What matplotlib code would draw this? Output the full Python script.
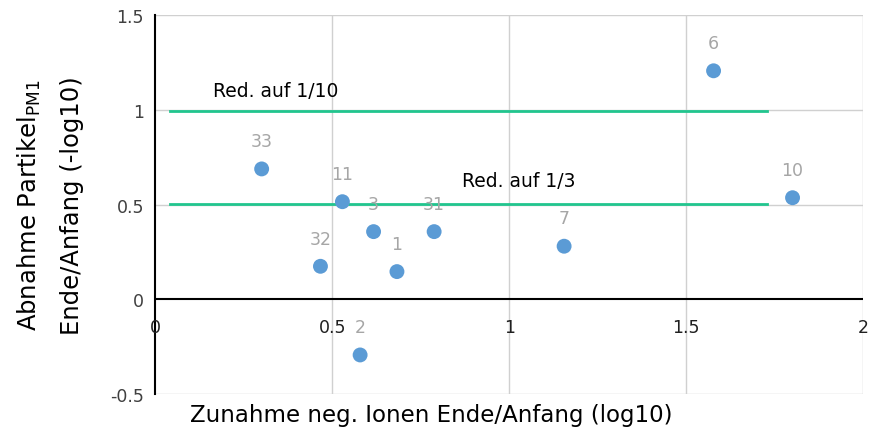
import matplotlib
matplotlib.use("Agg")
import matplotlib.pyplot as plt

# Data
labels = ["33", "32", "11", "2", "3", "1", "31", "7", "6", "10"]
x_vals = [0.301, 0.467, 0.529, 0.579, 0.617, 0.683, 0.788, 1.155, 1.577, 1.800]
y_vals = [0.688, 0.174, 0.515, -0.294, 0.357, 0.146, 0.357, 0.280, 1.206, 0.536]

ref_levels = [0.995, 0.505]
ref_names = ["Red. auf 1/10", "Red. auf 1/3"]
ref_x_range = [0.042, 1.728]
ref_text_pos = [(0.163, 1.10), (0.866, 0.626)]

x_ticks = [0, 0.5, 1, 1.5, 2]
x_tick_labels = ["0", "0.5", "1", "1.5", "2"]
y_ticks = [-0.5, 0, 0.5, 1, 1.5]
y_tick_labels = ["-0.5", "0", "0.5", "1", "1.5"]

plt.rcParams['font.family'] = ['DejaVu Sans']

fig = plt.figure(figsize=(8.81, 4.35), dpi=100)
ax = fig.add_axes([0.176, 0.092, 0.804, 0.871])
ax.set_xlim(0, 2)
ax.set_ylim(-0.5, 1.5)

grid_c = "#d0d0d0"
for xv in x_ticks[1:]:
    ax.axvline(xv, color=grid_c, lw=1.0, zorder=0)
for yv in y_ticks:
    if yv != 0:
        ax.axhline(yv, color=grid_c, lw=1.0, zorder=0)
ax.axhline(0, color="black", lw=1.5, zorder=1)

for s in ["top", "right", "bottom"]:
    ax.spines[s].set_visible(False)
ax.spines["left"].set_color("black")
ax.spines["left"].set_linewidth(1.5)

ax.set_xticks(x_ticks)
ax.set_xticklabels([])
ax.tick_params(axis="x", length=0)
ax.set_yticks(y_ticks)
ax.set_yticklabels(y_tick_labels, fontsize=12.5, color="#404040")
ax.tick_params(axis="y", length=0, pad=8)

# x tick labels placed just under the zero line
for xv, lab in zip(x_ticks, x_tick_labels):
    ax.annotate(lab, xy=(xv, 0), xytext=(0, -20), textcoords="offset points",
                ha="center", va="center", fontsize=12.5, color="#202020")

# reference lines
for lvl, name, (tx, ty) in zip(ref_levels, ref_names, ref_text_pos):
    ax.plot(ref_x_range, [lvl, lvl], color="#21c58e", lw=2.0, zorder=2)
    ax.text(tx, ty, name, fontsize=13.5, color="black", ha="left", va="center")

ax.scatter(x_vals, y_vals, s=115, color="#5b9bd5", zorder=3, edgecolors="none")
for xv, yv, lab in zip(x_vals, y_vals, labels):
    ax.annotate(lab, xy=(xv, yv), xytext=(0, 20), textcoords="offset points",
                ha="center", va="center", fontsize=12.5, color="#a6a6a6")

ax.set_xlabel("Zunahme neg. Ionen Ende/Anfang (log10)", fontsize=16.5, color="black")
ax.xaxis.set_label_coords(0.39, -0.025)
ax.set_ylabel("Abnahme Partikel$_{\\mathregular{PM1}}$\nEnde/Anfang (-log10)", fontsize=17.5,
              color="black", linespacing=1.9)
ax.yaxis.set_label_coords(-0.100, 0.5)

fig.savefig("out.png", dpi=100)
